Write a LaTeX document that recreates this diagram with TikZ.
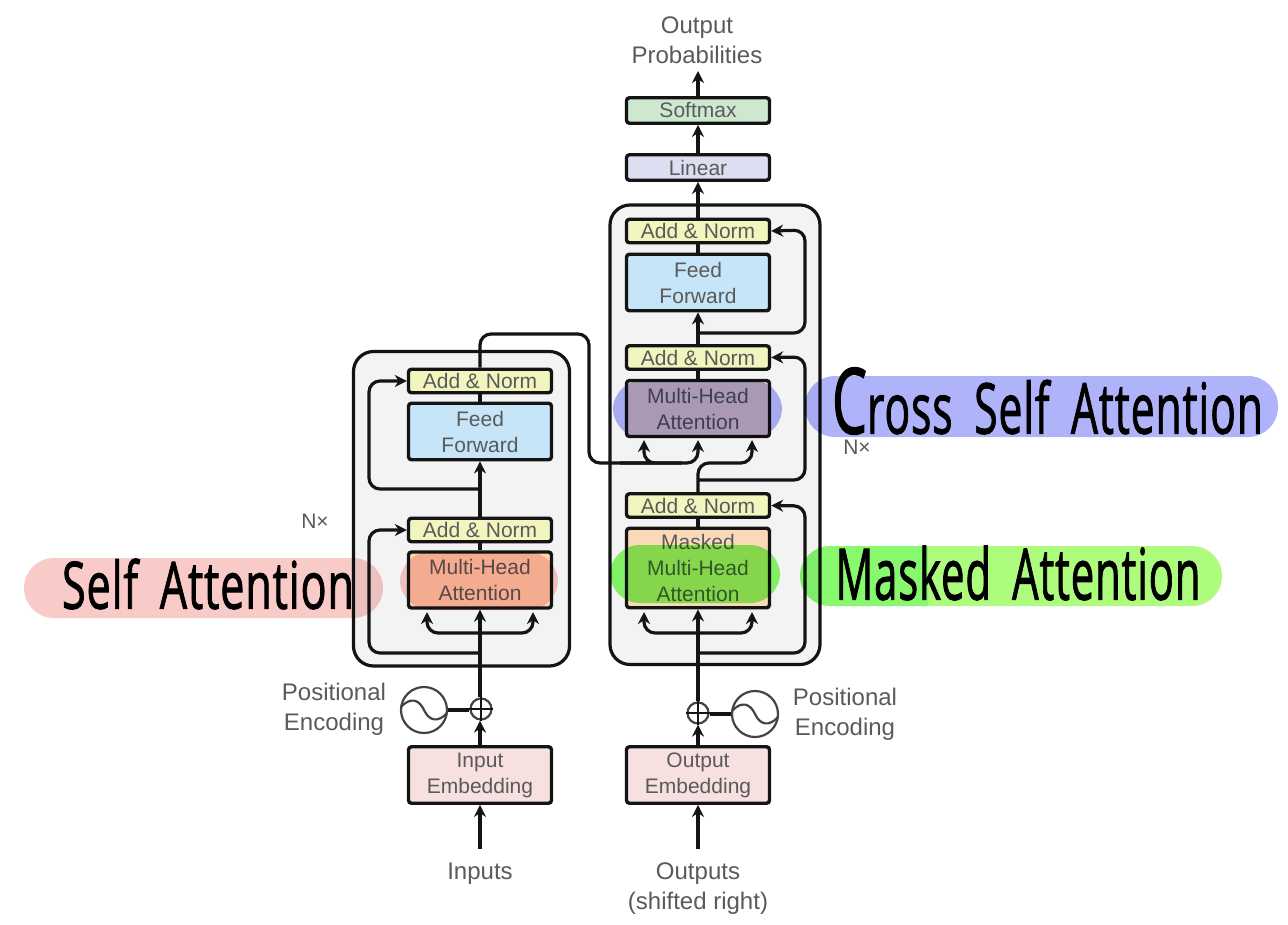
\documentclass[tikz,border=0pt]{standalone}
\usepackage{fontspec}
\setmainfont{Liberation Sans}
\newfontfamily\handfont[LetterSpace=2,WordSpace=1.8,FakeBold=1.6]{Open Sans}
\usetikzlibrary{arrows.meta,calc}
\definecolor{txt}{HTML}{5A5A5A}
\definecolor{ink}{HTML}{141414}
\definecolor{addc}{HTML}{F3F5BF}
\definecolor{ffc}{HTML}{C7E5F8}
\definecolor{mhac}{HTML}{FAD9B8}
\definecolor{embc}{HTML}{F7E0E0}
\definecolor{linc}{HTML}{DDDEF2}
\definecolor{softc}{HTML}{CDE8CF}
\definecolor{contc}{HTML}{F3F3F4}
\definecolor{pinkc}{HTML}{F9CBC8}
\definecolor{bluec}{HTML}{AFB3FA}
\definecolor{greenc}{HTML}{AEFC7E}
\definecolor{greene}{HTML}{C8FBE0}
\definecolor{greenk}{HTML}{89FC6C}
\tikzset{
  x=1pt,y=-1pt,
  every node/.style={font=\fontsize{21}{25}\selectfont,text=txt,align=center},
  boxbase/.style={draw=ink,line width=3.4pt,rounded corners=3pt,minimum width=143pt,inner sep=0pt},
  addbox/.style={boxbase,fill=addc,minimum height=23.5pt},
  ffbox/.style={boxbase,fill=ffc,minimum height=56.5pt},
  mhabox/.style={boxbase,fill=mhac,minimum height=56pt},
  maskbox/.style={boxbase,fill=mhac,minimum height=79.5pt},
  embbox/.style={boxbase,fill=embc,minimum height=56.5pt},
  linbox/.style={boxbase,fill=linc,minimum height=25.5pt},
  softbox/.style={boxbase,fill=softc,minimum height=25.5pt},
  container/.style={draw=ink,line width=3.2pt,fill=contc,rounded corners=20pt},
  wire/.style={draw=ink,line width=3.2pt,rounded corners=11pt},
  arr/.style={wire,-{Stealth[length=12pt,width=12pt]}},
  ring/.style={draw=ink!80,line width=2.2pt,circle,fill=white,inner sep=0pt},
  pinkp/.style={fill=pinkc,rounded corners=30pt,blend mode=multiply},
  bluep/.style={fill=bluec,rounded corners=30pt,blend mode=multiply},
  greenp/.style={fill=greenc,rounded corners=30pt,blend mode=multiply},
  greenq/.style={fill=greenk,rounded corners=30pt,blend mode=multiply},
  greenx/.style={fill=greene,blend mode=multiply},
  hand/.style={text=black,inner sep=0pt},
  lbl/.style={inner sep=0pt,font=\fontsize{24}{25}\selectfont},
  nlbl/.style={inner sep=0pt}
}
\begin{document}
\begin{tikzpicture}
\useasboundingbox (0,0) rectangle (1288,924);
\fill[white] (0,0) rectangle (1288,924);
% containers
\draw[container] (353.5,351.5) rectangle (569.5,666);
\draw[container] (610,205) rectangle (820,664.5);
% nodes
\node[embbox] (ie) at (480,775) {Input\\[1pt]Embedding};
\node[embbox] (oe) at (698,775) {Output\\[1pt]Embedding};
\node[mhabox] (lm) at (480,580) {Multi-Head\\[1pt]Attention};
\node[addbox] (la1) at (480,530) {Add \& Norm};
\node[ffbox] (lf) at (480,431.5) {Feed\\[1pt]Forward};
\node[addbox] (la2) at (480,381) {Add \& Norm};
\node[maskbox] (rm) at (698,568) {Masked\\[1pt]Multi-Head\\[1pt]Attention};
\node[addbox] (ra1) at (698,505.5) {Add \& Norm};
\node[mhabox] (rc) at (698,408.5) {Multi-Head\\[1pt]Attention};
\node[addbox] (ra2) at (698,357.5) {Add \& Norm};
\node[ffbox] (rf) at (698,282.5) {Feed\\[1pt]Forward};
\node[addbox] (ra3) at (698,231) {Add \& Norm};
\node[linbox] (lin) at (698,167.5) {Linear};
\node[softbox] (sm) at (698,110.5) {Softmax};
\node[ring,minimum size=21pt] (pl) at (481,709) {};
\node[ring,minimum size=21pt] (pr) at (698,713) {};
\node[ring,minimum size=46pt] (sl) at (424,710) {};
\node[ring,minimum size=46pt] (sr) at (755,714) {};
% free ends and bends
\coordinate (inp) at (480,849);
\coordinate (outp) at (698,849);
\coordinate (top) at (698,71);
\coordinate (la) at (427,612);
\coordinate (lb) at (533,612);
\coordinate (ra) at (644,612);
\coordinate (rb) at (752,612);
\coordinate (ca) at (644,440);
\coordinate (cb) at (698,440);
\coordinate (cc) at (752,440);
% plus and sine details
\draw[ink,line width=1.6pt] (pl.west)--(pl.east) (pl.north)--(pl.south) (pr.west)--(pr.east) (pr.north)--(pr.south);
\draw[ink!80,line width=2.2pt,shift={(sl.center)}] (-23,-3) .. controls (-14,-13) and (-5,-11) .. (0,0) .. controls (5,11) and (14,13) .. (23,3);
\draw[ink!80,line width=2.2pt,shift={(sr.center)}] (-23,-3) .. controls (-14,-13) and (-5,-11) .. (0,0) .. controls (5,11) and (14,13) .. (23,3);
\draw[wire] (sl.east)--(sl.east-|pl.west);
\draw[wire] (sr.west)--(sr.west-|pr.east);
% left stack connectors
\draw[arr] (inp)--(ie.south);
\draw[arr] (ie.north)--(ie.north|-pl.south);
\draw[arr] (ie.north|-pl.north)--(lm.south);
\draw[arr] (480,633)-|(la);
\draw[arr] (480,633)-|(lb);
\draw[arr] (480,653)-|(369,530)--(la1.west);
\draw[wire] (lm.north)--(la1.south);
\draw[arr] (la1.north)--(lf.south);
\draw[wire] (lf.north)--(la2.south);
\draw[arr] (480,489)-|(369,381)--(la2.west);
% encoder to decoder
\draw[arr] (la2.north)|-(589,334)|-(688,463)-|(ca);
\draw[arr] (620,463)-|(cb);
\draw[arr] (ra1.north)|-(752,463)--(cc);
% right stack connectors
\draw[arr] (outp)--(oe.south);
\draw[arr] (oe.north)--(pr.south);
\draw[arr] (pr.north)--(rm.south);
\draw[arr] (698,633)-|(ra);
\draw[arr] (698,633)-|(rb);
\draw[arr] (698,653)-|(805,506)--(ra1.east);
\draw[wire] (rm.north)--(ra1.south);
\draw[wire] (rc.north)--(ra2.south);
\draw[arr] (698,480)-|(805,357)--(ra2.east);
\draw[arr] (ra2.north)--(rf.south);
\draw[arr] (698,333)-|(805,230)--(ra3.east);
\draw[wire] (rf.north)--(ra3.south);
\draw[arr] (ra3.north)--(lin.south);
\draw[arr] (lin.north)--(sm.south);
\draw[arr] (sm.north)--(top);
% plain labels
\node[lbl] (t1) at (697,40) {Output\\[5pt]Probabilities};
\node[lbl] (t2) at (480,874) {Inputs};
\node[lbl] (t3) at (698,889) {Outputs\\[5pt](shifted right)};
\node[lbl] (t4) at (334,709.5) {Positional\\[5pt]Encoding};
\node[lbl] (t5) at (845,714) {Positional\\[5pt]Encoding};
\node[nlbl] (t6) at (315,521) {N×};
\node[nlbl] (t7) at (857,447) {N×};
% highlights
\fill[pinkp] (24,558) rectangle (383,618);
\fill[pinkp] (400,552) rectangle (558,610);
\fill[bluep] (805,376) rectangle (1278,437);
\fill[bluep] (613,380) rectangle (782,438);
\fill[greenp] (800,546) rectangle (1222,606);
\fill[greenx] (928,546) [rounded corners=30pt] -- (800,546) -- (800,606) [sharp corners] -- (928,606) -- cycle;
\fill[greenq] (610,545) rectangle (780,603);
% handwriting
\node[hand] (h1) at (208,584) {\resizebox{292pt}{50pt}{\handfont Self Attention}};
\node[hand] (h2) at (1047.5,401) {\resizebox{431pt}{66pt}{\handfont\scalebox{1.3}{C}ross Self Attention}};
\node[hand] (h3) at (1018,573) {\resizebox{365pt}{54pt}{\handfont Masked Attention}};
\end{tikzpicture}
\end{document}
